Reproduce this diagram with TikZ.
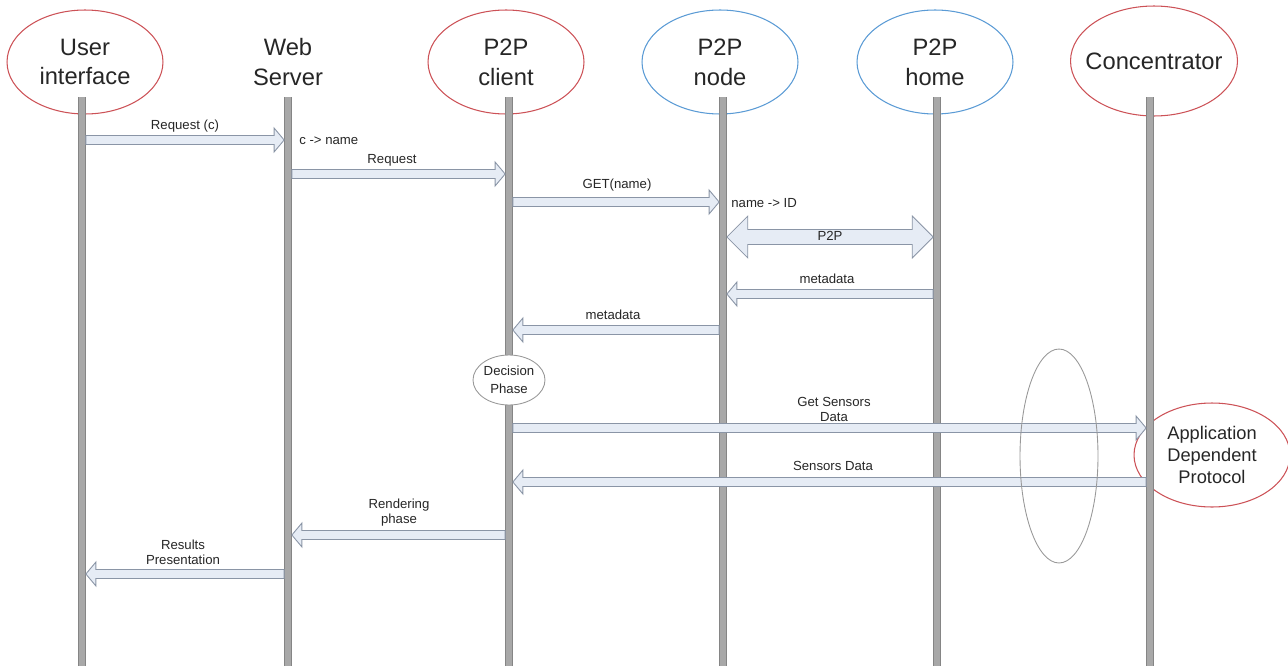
\documentclass[tikz,border=0pt]{standalone}
\usepackage{fontspec}
\setmainfont{Liberation Sans}
\usetikzlibrary{shapes.geometric,calc,positioning}

\definecolor{redline}{HTML}{CC5257}
\definecolor{blueline}{HTML}{5B9BD5}
\definecolor{arrfill}{HTML}{E6ECF5}
\definecolor{arrline}{HTML}{8A95A6}
\definecolor{lifefill}{HTML}{A8A8A8}
\definecolor{lifeedge}{HTML}{858585}
\definecolor{txt}{HTML}{262626}

\tikzset{
    actor/.style={ellipse, minimum width=3.12cm, minimum height=2.08cm, inner sep=0pt,
        align=center, text=txt, line width=0.6pt, font=\fontsize{13.5}{17}\selectfont},
    lifeline/.style={draw=lifeedge, line width=0.6pt, double=lifefill, double distance=3.6pt},
    lbl/.style={align=center, text=txt, inner sep=0pt, font=\fontsize{7.5}{8.5}\selectfont},
    % hollow block arrow between two points on the same row
    msg/.style={draw=arrline, fill=arrfill, line width=0.5pt,
        to path={let \p1=(\tikztostart), \p2=(\tikztotarget), \n1={sign(\x2-\x1)} in
            (\x1+\n1*2.2pt,\y1+2.55pt) -- (\x2-\n1*7.9pt,\y1+2.55pt)
            -- (\x2-\n1*7.9pt,\y1+6.8pt) -- (\x2-\n1*2.2pt,\y1)
            -- (\x2-\n1*7.9pt,\y1-6.8pt) -- (\x2-\n1*7.9pt,\y1-2.55pt)
            -- (\x1+\n1*2.2pt,\y1-2.55pt) -- cycle}},
    bimsg/.style={draw=arrline, fill=arrfill, line width=0.5pt,
        to path={let \p1=(\tikztostart), \p2=(\tikztotarget), \n1={sign(\x2-\x1)} in
            (\x1+\n1*2.2pt,\y1) -- (\x1+\n1*14.1pt,\y1+11.9pt)
            -- (\x1+\n1*14.1pt,\y1+4.25pt) -- (\x2-\n1*14.1pt,\y1+4.25pt)
            -- (\x2-\n1*14.1pt,\y1+11.9pt) -- (\x2-\n1*2.2pt,\y1)
            -- (\x2-\n1*14.1pt,\y1-11.9pt) -- (\x2-\n1*14.1pt,\y1-4.25pt)
            -- (\x1+\n1*14.1pt,\y1-4.25pt) -- (\x1+\n1*14.1pt,\y1-11.9pt) -- cycle}}
}

\begin{document}
\begin{tikzpicture}[x=0.02cm, y=-0.02cm]

    \useasboundingbox (0,0) rectangle (1288,666);

    %actors
    \node[actor, draw=redline] (ui) at (85,62) {User\\interface};
    \node[actor] (ws) at (288,62) {Web\\Server};
    \node[actor, draw=redline] (pc) at (506,62) {P2P\\client};
    \node[actor, draw=blueline] (pn) at (720,62) {P2P\\node};
    \node[actor, draw=blueline] (ph) at (935,62) {P2P\\home};
    \node[actor, draw=redline, minimum width=3.34cm, minimum height=2.2cm] (con) at (1154,61)
        {\makebox[0pt]{Concentrator}};

    \node[ellipse, draw=redline, line width=0.6pt, minimum width=3.12cm, minimum height=2.08cm,
        inner sep=0pt, align=center, text=txt, font=\fontsize{10.4}{12.5}\selectfont]
        (adp) at (1212,455) {Application\\Dependent\\Protocol};

    %lifelines
    \coordinate (bot) at (0,666);
    \foreach \a/\x in {ui/82, ws/288, pc/509, pn/723, ph/937, con/1150}
        \coordinate (\a-top) at (\x,97);
    \foreach \a in {ui,ws,pc,pn,ph,con}
        \draw[lifeline] (\a-top) -- (\a-top |- bot);

    %message rows
    \foreach \r/\y in {m1/140, m2/174, m3/202, m4/237, m5/294, m6/330, m7/428, m8/482, m9/535, m10/574}
        \coordinate (\r) at (0,\y);

    \draw[msg] (ui-top |- m1) to (ws-top |- m1);
    \draw[msg] (ws-top |- m2) to (pc-top |- m2);
    \draw[msg] (pc-top |- m3) to (pn-top |- m3);
    \draw[bimsg] (pn-top |- m4) to (ph-top |- m4);
    \draw[msg] (ph-top |- m5) to (pn-top |- m5);
    \draw[msg] (pn-top |- m6) to (pc-top |- m6);
    \draw[msg] (pc-top |- m7) to (con-top |- m7);
    \draw[msg] (con-top |- m8) to (pc-top |- m8);
    \draw[msg] (pc-top |- m9) to (ws-top |- m9);
    \draw[msg] (ws-top |- m10) to (ui-top |- m10);

    %labels
    \node[lbl] (l-req1) at (185,126) {Request (c)};
    \node[lbl, anchor=west] (l-map1) at (299,141) {c -> name};
    \node[lbl] (l-req2) at (392,160) {Request};
    \node[lbl] (l-get) at (617,185) {GET(name)};
    \node[lbl, anchor=west] (l-map2) at (731,203) {name -> ID};
    \node[lbl] (l-p2p) at (830,236) {P2P};
    \node[lbl] (l-meta1) at (827,279) {metadata};
    \node[lbl] (l-meta2) at (613,315) {metadata};
    \node[lbl] (l-gsd) at (834,409) {Get Sensors\\Data};
    \node[lbl] (l-sd) at (833,466) {Sensors Data};
    \node[lbl] (l-rend) at (399,513) {Rendering\\phase};
    \node[lbl] (l-res) at (183,552) {Results\\Presentation};

    %phases
    \node[ellipse, draw=gray!80, fill=white, line width=0.5pt, minimum width=1.44cm, minimum height=1cm,
        inner sep=0pt, align=center, text=txt, font=\fontsize{7.5}{10}\selectfont]
        (dec) at (509,380) {Decision\\Phase};
    \node[ellipse, draw=gray!80, line width=0.5pt, minimum width=1.56cm, minimum height=4.28cm] (loop) at (1059,456) {};

\end{tikzpicture}
\end{document}
